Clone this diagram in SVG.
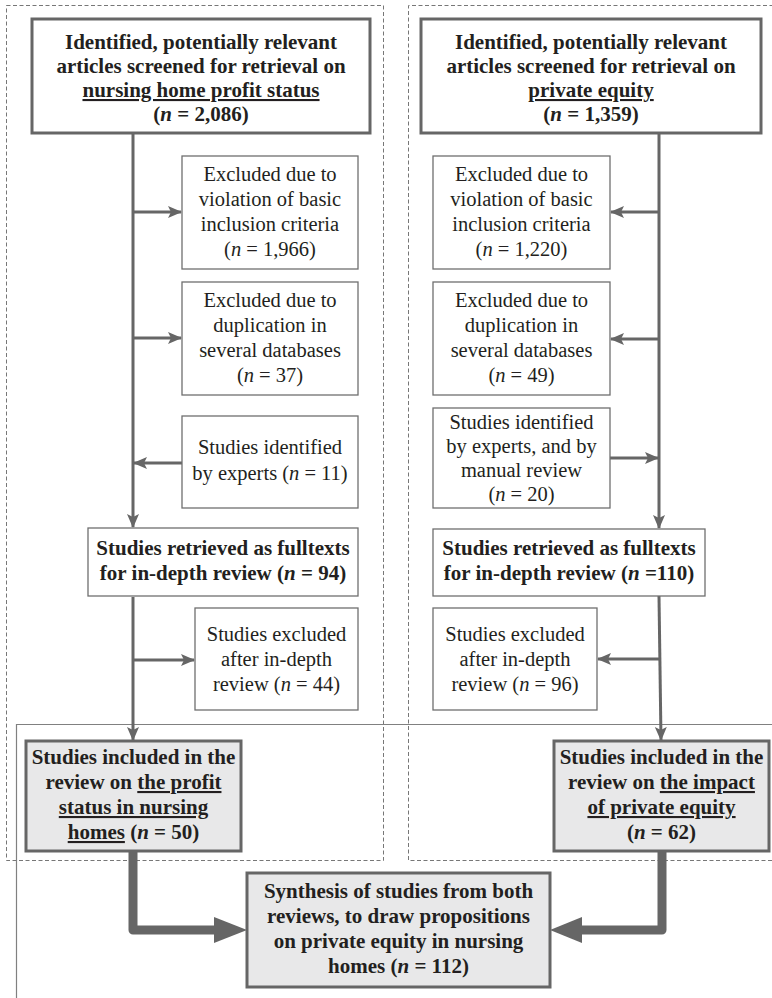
<svg xmlns="http://www.w3.org/2000/svg" width="772" height="998" viewBox="0 0 772 998" font-family="'Liberation Serif', 'Times New Roman', serif" font-size="20.5">
<style>
text{font-family:'Liberation Serif','Times New Roman',serif;font-size:20.5px;fill:#231f20;text-anchor:middle}
.b{font-weight:bold;font-size:21px}
.i{font-style:italic}
.u{text-decoration:underline}
.thick{fill:#fff;stroke:#666;stroke-width:3}
.thin{fill:#fff;stroke:#6f6f6f;stroke-width:1.3}
.grey{fill:#e8e8e9;stroke:#666;stroke-width:3}
.dash{fill:none;stroke:#777;stroke-width:1;stroke-dasharray:4 2.5}
.conn{fill:none;stroke:#666;stroke-width:3}
.big{fill:none;stroke:#666;stroke-width:9;stroke-linejoin:round}
</style>
<defs>
<marker id="ah" markerWidth="14" markerHeight="14" refX="13" refY="7" orient="auto" markerUnits="userSpaceOnUse">
<path d="M0,1 L14,7 L0,13 L3,7 Z" fill="#666"/>
</marker>
</defs>
<rect width="772" height="998" fill="#fff"/>
<g id="frames">
<rect class="dash" x="6.5" y="5.5" width="377" height="855"/>
<path class="dash" d="M780,5.5 H408.5 V860.5 H780"/>
<path d="M780,724.5 H16.5 V1000" fill="none" stroke="#808080" stroke-width="1.2"/>
</g>
<g id="connectors">
<line class="conn" x1="133" y1="134" x2="133" y2="527" marker-end="url(#ah)"/>
<line class="conn" x1="133" y1="212" x2="181" y2="212" marker-end="url(#ah)"/>
<line class="conn" x1="133" y1="338" x2="181" y2="338" marker-end="url(#ah)"/>
<line class="conn" x1="182" y1="463" x2="134" y2="463" marker-end="url(#ah)"/>
<line class="conn" x1="133" y1="597" x2="133" y2="740" marker-end="url(#ah)"/>
<line class="conn" x1="133" y1="660" x2="194" y2="660" marker-end="url(#ah)"/>
<line class="conn" x1="659" y1="134" x2="659" y2="528" marker-end="url(#ah)"/>
<line class="conn" x1="659" y1="212" x2="611" y2="212" marker-end="url(#ah)"/>
<line class="conn" x1="659" y1="339" x2="611" y2="339" marker-end="url(#ah)"/>
<line class="conn" x1="610" y1="458" x2="658" y2="458" marker-end="url(#ah)"/>
<line class="conn" x1="659" y1="596" x2="661" y2="740" marker-end="url(#ah)"/>
<line class="conn" x1="660" y1="659" x2="598" y2="659" marker-end="url(#ah)"/>
<path class="big" d="M133,852 V930 H216"/>
<path d="M214,917 L247,930 L214,943 Z" fill="#666"/>
<path class="big" d="M662,852 V930 H580"/>
<path d="M582,917 L550,930 L582,943 Z" fill="#666"/>
</g>
<g id="top-left">
<rect class="thick" x="32" y="19" width="338" height="114"/>
<text class="b" x="201" y="49">Identified, potentially relevant</text>
<text class="b" x="201" y="73">articles screened for retrieval on</text>
<text class="b" x="201" y="97"><tspan class="u">nursing home profit status</tspan></text>
<text class="b" x="201" y="121">(<tspan class="i">n</tspan> = 2,086)</text>
</g>
<g id="top-right">
<rect class="thick" x="421" y="19" width="340" height="114"/>
<text class="b" x="591" y="49">Identified, potentially relevant</text>
<text class="b" x="591" y="73">articles screened for retrieval on</text>
<text class="b" x="591" y="97"><tspan class="u">private equity</tspan></text>
<text class="b" x="591" y="121">(<tspan class="i">n</tspan> = 1,359)</text>
</g>
<g id="l-excl1">
<rect class="thin" x="182" y="156" width="176" height="113"/>
<text x="270" y="181">Excluded due to</text>
<text x="270" y="206">violation of basic</text>
<text x="270" y="231">inclusion criteria</text>
<text x="270" y="256">(<tspan class="i">n</tspan> = 1,966)</text>
</g>
<g id="l-excl2">
<rect class="thin" x="182" y="282" width="176" height="113"/>
<text x="270" y="307">Excluded due to</text>
<text x="270" y="332">duplication in</text>
<text x="270" y="357">several databases</text>
<text x="270" y="382">(<tspan class="i">n</tspan> = 37)</text>
</g>
<g id="l-experts">
<rect class="thin" x="182" y="416" width="176" height="92"/>
<text x="270" y="454">Studies identified</text>
<text x="270" y="480">by experts (<tspan class="i">n</tspan> = 11)</text>
</g>
<g id="l-retrieved">
<rect class="thin" x="88" y="528" width="270" height="68"/>
<text class="b" x="223" y="555">Studies retrieved as fulltexts</text>
<text class="b" x="223" y="580">for in-depth review (<tspan class="i">n</tspan> = 94)</text>
</g>
<g id="l-excl3">
<rect class="thin" x="195" y="608" width="163" height="102"/>
<text x="276.5" y="641">Studies excluded</text>
<text x="276.5" y="666">after in-depth</text>
<text x="276.5" y="691">review (<tspan class="i">n</tspan> = 44)</text>
</g>
<g id="l-included">
<rect class="grey" x="26" y="741" width="215" height="110"/>
<text class="b" x="133.5" y="764">Studies included in the</text>
<text class="b" x="133.5" y="789">review on <tspan class="u">the profit</tspan></text>
<text class="b" x="133.5" y="814"><tspan class="u">status in nursing</tspan></text>
<text class="b" x="133.5" y="839"><tspan class="u">homes</tspan> (<tspan class="i">n</tspan> = 50)</text>
</g>
<g id="r-excl1">
<rect class="thin" x="433" y="156" width="177" height="113"/>
<text x="521.5" y="181">Excluded due to</text>
<text x="521.5" y="206">violation of basic</text>
<text x="521.5" y="231">inclusion criteria</text>
<text x="521.5" y="256">(<tspan class="i">n</tspan> = 1,220)</text>
</g>
<g id="r-excl2">
<rect class="thin" x="433" y="282" width="177" height="113"/>
<text x="521.5" y="307">Excluded due to</text>
<text x="521.5" y="332">duplication in</text>
<text x="521.5" y="357">several databases</text>
<text x="521.5" y="382">(<tspan class="i">n</tspan> = 49)</text>
</g>
<g id="r-experts">
<rect class="thin" x="433" y="408" width="177" height="100"/>
<text x="521.5" y="429">Studies identified</text>
<text x="521.5" y="453">by experts, and by</text>
<text x="521.5" y="477">manual review</text>
<text x="521.5" y="501">(<tspan class="i">n</tspan> = 20)</text>
</g>
<g id="r-retrieved">
<rect class="thin" x="433" y="529" width="272" height="67"/>
<text class="b" x="569" y="555">Studies retrieved as fulltexts</text>
<text class="b" x="569" y="580">for in-depth review (<tspan class="i">n</tspan> =110)</text>
</g>
<g id="r-excl3">
<rect class="thin" x="433" y="608" width="164" height="102"/>
<text x="515" y="641">Studies excluded</text>
<text x="515" y="666">after in-depth</text>
<text x="515" y="691">review (<tspan class="i">n</tspan> = 96)</text>
</g>
<g id="r-included">
<rect class="grey" x="554" y="741" width="215" height="110"/>
<text class="b" x="661.5" y="764">Studies included in the</text>
<text class="b" x="661.5" y="789">review on <tspan class="u">the impact</tspan></text>
<text class="b" x="661.5" y="814"><tspan class="u">of private equity</tspan></text>
<text class="b" x="661.5" y="839">(<tspan class="i">n</tspan> = 62)</text>
</g>
<g id="synthesis">
<rect class="grey" x="247" y="873" width="303" height="114"/>
<text class="b" x="398.5" y="898">Synthesis of studies from both</text>
<text class="b" x="398.5" y="923">reviews, to draw propositions</text>
<text class="b" x="398.5" y="948">on private equity in nursing</text>
<text class="b" x="398.5" y="973">homes (<tspan class="i">n</tspan> = 112)</text>
</g>
</svg>
